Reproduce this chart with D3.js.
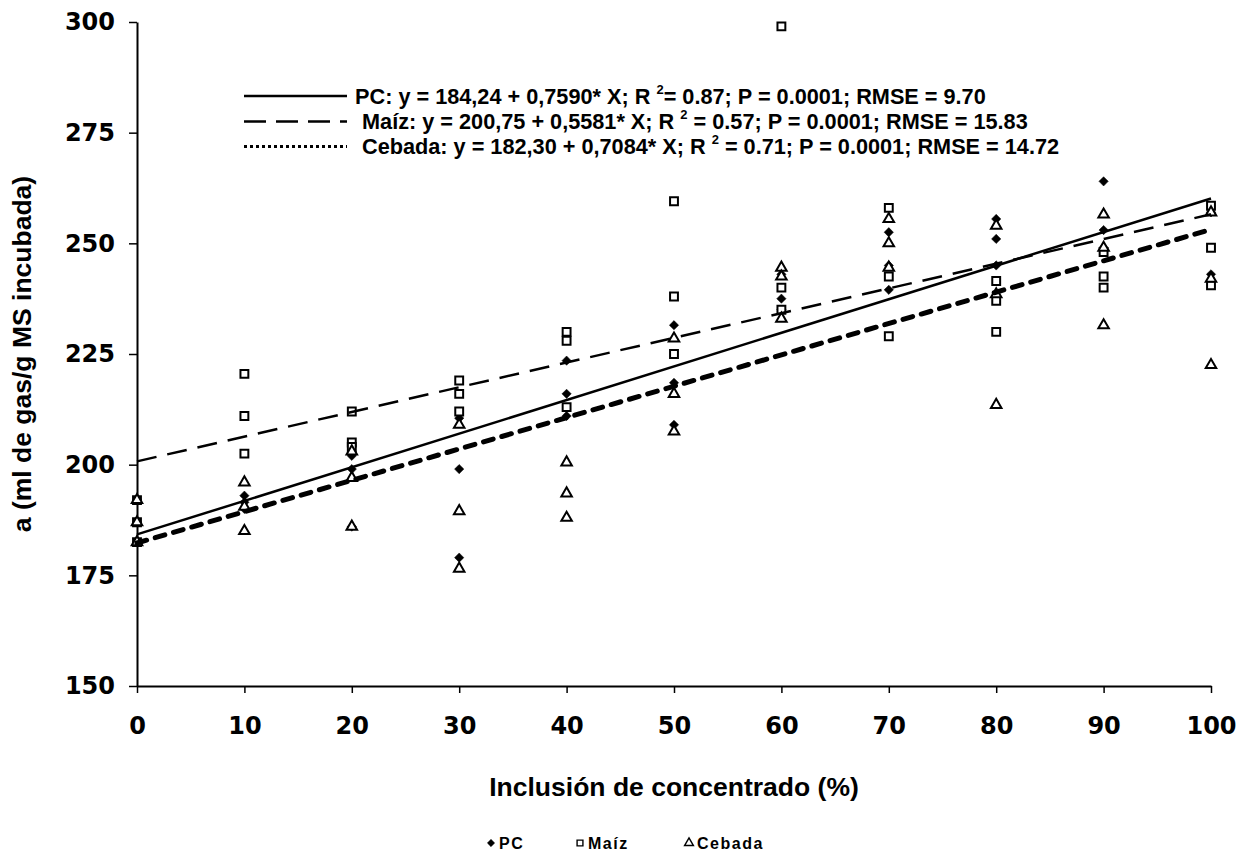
<!DOCTYPE html>
<html>
<head>
<meta charset="utf-8">
<script src="https://cdn.jsdelivr.net/npm/d3@7"></script>
<style>
  body { margin: 0; background: #fff; }
  text { font-family: "Liberation Sans", Arial, sans-serif; font-weight: bold; fill: #000; }
  .tick text { font-family: "DejaVu Sans", sans-serif; font-size: 24px; }
</style>
</head>
<body>
<div id="chart"></div>
<script>
/**
 * DATA
 * */
const xLevels = [0, 10, 20, 30, 40, 50, 60, 70, 80, 90, 100];

// three replicates per inclusion level
const pcValues = [
  [192, 187, 182.5], [193, 191.5, 190], [202, 199, 186], [210.5, 199, 179],
  [223.5, 216, 211], [231.5, 218.5, 209], [243, 237.5, 235], [252.5, 245, 239.5],
  [255.5, 251, 245], [264, 253, 249], [257, 243, 241.5]
];
const maizValues = [
  [192, 187, 182.5], [220.5, 211, 202.5], [212, 205, 204], [219, 216, 212],
  [230, 228, 213], [259.5, 238, 225], [299, 240, 235], [258, 242.5, 229],
  [241.5, 237, 230], [248, 242.5, 240], [258.5, 249, 240.5]
];
const cebadaValues = [
  [192, 187, 182.5], [196, 190.5, 185], [203, 197, 186], [209, 189.5, 176.5],
  [200.5, 193.5, 188], [228.5, 216, 207.5], [244.5, 242.5, 233], [255.5, 250, 244.5],
  [254, 238.5, 213.5], [256.5, 249, 231.5], [257, 242, 222.5]
];

const seriesNames = ["PC", "Maíz", "Cebada"];
const fitIntercept = [184.24, 200.75, 182.30];
const fitSlope = [0.7590, 0.5581, 0.7084];
const fitR2 = ["0.87", "0.57", "0.71"];
const fitP = ["0.0001", "0.0001", "0.0001"];
const fitRMSE = ["9.70", "15.83", "14.72"];

const yTicks = [150, 175, 200, 225, 250, 275, 300];
const xTicks = xLevels;

/**
 * LAYOUT
 * */
const width = 1248, height = 862;
const margin = { top: 22, left: 137, right: 37, bottom: 176 };

const svg = d3.select("#chart").append("svg")
  .attr("width", width)
  .attr("height", height);

const x = d3.scaleLinear().domain([0, 100]).range([margin.left, width - margin.right]);
const y = d3.scaleLinear().domain([150, 300]).range([height - margin.bottom, margin.top]);

// line styles for the fitted lines
const lineStyle = [
  { w: 2.5, dash: null, cap: "butt" },
  { w: 2.5, dash: "20,11", cap: "butt" },
  { w: 5, dash: "10,9", cap: "round" }
];
const legendStyle = [
  { w: 2.5, dash: null },
  { w: 2.5, dash: "22,10" },
  { w: 3, dash: "3,3" }
];

// axes
svg.append("g")
  .attr("transform", `translate(0,${y(150)})`)
  .call(d3.axisBottom(x).tickValues(xTicks).tickSize(7).tickSizeOuter(0).tickPadding(24))
  .call(g => g.select(".domain").attr("stroke-width", 2))
  .call(g => g.selectAll(".tick line").attr("stroke-width", 1.5));

svg.append("g")
  .attr("transform", `translate(${x(0)},0)`)
  .call(d3.axisLeft(y).tickValues(yTicks).tickSize(8).tickSizeOuter(0).tickPadding(14))
  .call(g => g.select(".domain").attr("stroke-width", 2))
  .call(g => g.selectAll(".tick line").attr("stroke-width", 1.5));

// points
const symbols = [d3.symbolDiamond2, d3.symbolSquare, d3.symbolTriangle];
const sizes = [55, 62, 48];
const allValues = [pcValues, maizValues, cebadaValues];

allValues.forEach((vals, s) => {
  const pts = [];
  vals.forEach((reps, i) => reps.forEach(v => pts.push({ x: xLevels[i], v })));
  svg.append("g")
    .selectAll("path")
    .data(pts)
    .join("path")
    .attr("d", d3.symbol().type(symbols[s]).size(sizes[s]))
    .attr("transform", d => `translate(${x(d.x)},${y(d.v)})`)
    .attr("fill", s === 0 ? "#000" : "#fff")
    .attr("stroke", "#000")
    .attr("stroke-width", s === 0 ? 0.5 : 2);
});

// fitted lines
fitIntercept.forEach((b, s) => {
  const l = svg.append("line")
    .attr("x1", x(0)).attr("y1", y(b))
    .attr("x2", x(100)).attr("y2", y(b + fitSlope[s] * 100))
    .attr("stroke", "#000")
    .attr("stroke-width", lineStyle[s].w)
    .attr("stroke-linecap", lineStyle[s].cap);
  if (lineStyle[s].dash) l.attr("stroke-dasharray", lineStyle[s].dash);
});

// equation legend
const legRows = [96, 121.5, 146.5];
const textX = [355, 362, 362];
seriesNames.forEach((name, s) => {
  const ly = legRows[s];
  const l = svg.append("line")
    .attr("x1", 244).attr("x2", 347)
    .attr("y1", ly).attr("y2", ly)
    .attr("stroke", "#000")
    .attr("stroke-width", legendStyle[s].w);
  if (legendStyle[s].dash) l.attr("stroke-dasharray", legendStyle[s].dash);

  const slope = fitSlope[s].toFixed(4).replace(".", ",");
  const icpt = fitIntercept[s].toFixed(2).replace(".", ",");
  const t = svg.append("text")
    .attr("x", textX[s]).attr("y", ly + 7.5)
    .attr("font-size", 21.7);
  t.append("tspan").text(`${name}: y = ${icpt} + ${slope}* X; R `);
  t.append("tspan").attr("font-size", 13).attr("dy", -10).text("2");
  t.append("tspan").attr("dy", 10)
    .text(`${s === 0 ? "" : " "}= ${fitR2[s]}; P = ${fitP[s]}; RMSE = ${fitRMSE[s]}`);
});

// axis titles
svg.append("text")
  .attr("x", (x(0) + x(100)) / 2).attr("y", 796)
  .attr("text-anchor", "middle")
  .attr("font-size", 26.5)
  .text("Inclusión de concentrado (%)");

svg.append("text")
  .attr("transform", `translate(31,${(y(150) + y(300)) / 2}) rotate(-90)`)
  .attr("text-anchor", "middle")
  .attr("font-size", 26.5)
  .text("a (ml de gas/g MS incubada)");

// bottom legend
const keyX = [491, 580, 689];
seriesNames.forEach((name, s) => {
  svg.append("path")
    .attr("d", d3.symbol().type(symbols[s]).size(s === 0 ? 34 : 34))
    .attr("transform", `translate(${keyX[s]},843)`)
    .attr("fill", s === 0 ? "#000" : "#fff")
    .attr("stroke", "#000")
    .attr("stroke-width", s === 0 ? 0.5 : 1.4);
  svg.append("text")
    .attr("x", keyX[s] + 8).attr("y", 849)
    .attr("font-size", 16)
    .attr("letter-spacing", 1.5)
    .text(name);
});
</script>
</body>
</html>
